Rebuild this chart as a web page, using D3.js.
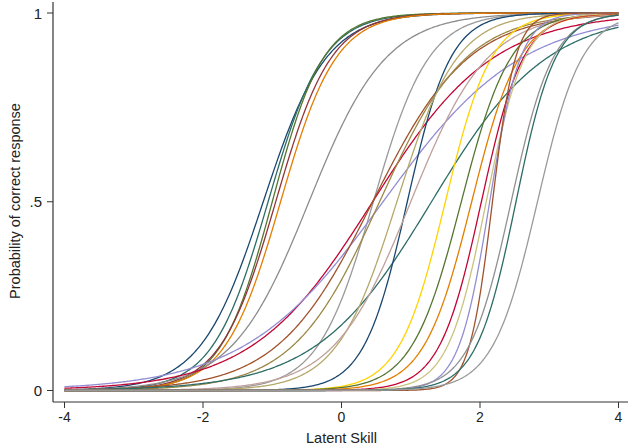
<!DOCTYPE html>
<html>
<head>
<meta charset="utf-8">
<script src="https://cdn.jsdelivr.net/npm/d3@7"></script>
<style>
  html, body { margin: 0; padding: 0; background: #fff; }
  svg { display: block; }
  text { font-family: "Liberation Sans", Arial, sans-serif; fill: #222; }
</style>
</head>
<body>
<svg id="chart" width="630" height="446"></svg>
<script>
// Item characteristic curves (2PL): one entry per item
const items = d3.range(1, 26).map(i => "Item " + i);
const difficulty = [-1.13, -1.06, -1.0, -0.95, -0.88, -0.47, 0.46, 0.45, 0.6, 0.45, 0.55, 1.3, 0.95, 0.8, 1.0,
                    1.5, 1.73, 1.88, 2.02, 2.09, 2.14, 2.18, 2.45, 2.52, 2.83];
const discrimination = [2.2, 2.5, 2.7, 2.5, 2.5, 1.8, 2.5, 1.15, 1.0, 1.45, 1.6, 1.2, 3.2, 2.3, 1.8,
                        3.0, 2.8, 2.9, 3.3, 3.6, 4.5, 6.0, 3.3, 3.5, 3.1];
const colors = ["#1a476f", "#2d6d66", "#55752f", "#90353b", "#e37e00", "#8c8c8c", "#9a9a9a", "#c10534",
                "#938dd2", "#a0522d", "#9c8847", "#2d6d66", "#1a476f", "#b5a86a", "#bfa19c",
                "#ffd200", "#55752f", "#e37e00", "#c10534", "#cac27e", "#938dd2", "#a0522d",
                "#909090", "#2d6d66", "#9a9a9a"];
const xTicks = [-4, -2, 0, 2, 4];
const yTicks = [0, 0.5, 1];
const yTickLabels = ["0", ".5", "1"];
const xTitle = "Latent Skill";
const yTitle = "Probability of correct response";

const svg = d3.select("#chart");
const x = d3.scaleLinear().domain([-4, 4]).range([64.5, 618.5]);
const y = d3.scaleLinear().domain([0, 1]).range([390.5, 13]);

const axisColor = "#333";
const xAxisY = 402, yAxisX = 53;

// axis lines
svg.append("line").attr("x1", yAxisX).attr("x2", yAxisX).attr("y1", 2).attr("y2", xAxisY)
  .attr("stroke", axisColor).attr("stroke-width", 1.2);
svg.append("line").attr("x1", yAxisX).attr("x2", 628).attr("y1", xAxisY).attr("y2", xAxisY)
  .attr("stroke", axisColor).attr("stroke-width", 1.2);

// x ticks
const xt = svg.append("g").selectAll("g").data(xTicks).join("g");
xt.append("line").attr("x1", d => x(d)).attr("x2", d => x(d)).attr("y1", xAxisY).attr("y2", xAxisY + 6)
  .attr("stroke", axisColor).attr("stroke-width", 1);
xt.append("text").attr("x", d => x(d)).attr("y", 422).attr("text-anchor", "middle")
  .style("font-size", "14px").text(d => d);

// y ticks
const yt = svg.append("g").selectAll("g").data(yTicks).join("g");
yt.append("line").attr("x1", yAxisX - 6).attr("x2", yAxisX).attr("y1", d => y(d)).attr("y2", d => y(d))
  .attr("stroke", axisColor).attr("stroke-width", 1);
yt.append("text").attr("x", 42).attr("y", d => y(d) + 5.5).attr("text-anchor", "end")
  .style("font-size", "15px").text((d, i) => yTickLabels[i]);

// titles
svg.append("text").attr("x", x(0)).attr("y", 443).attr("text-anchor", "middle")
  .style("font-size", "14.5px").text(xTitle);
svg.append("text").attr("transform", "translate(20,201) rotate(-90)").attr("text-anchor", "middle")
  .style("font-size", "14.5px").text(yTitle);

// curves
const thetas = d3.range(-4, 4.0001, 0.02);
const line = d3.line().x(d => x(d[0])).y(d => y(d[1])).curve(d3.curveLinear);
const curves = items.map((name, i) => ({
  name, color: colors[i],
  pts: thetas.map(t => [t, 1 / (1 + Math.exp(-discrimination[i] * (t - difficulty[i])))])
}));
svg.append("g").selectAll("path").data(curves).join("path")
  .attr("d", d => line(d.pts)).attr("fill", "none")
  .attr("stroke", d => d.color).attr("stroke-width", 1.3);
</script>
</body>
</html>
